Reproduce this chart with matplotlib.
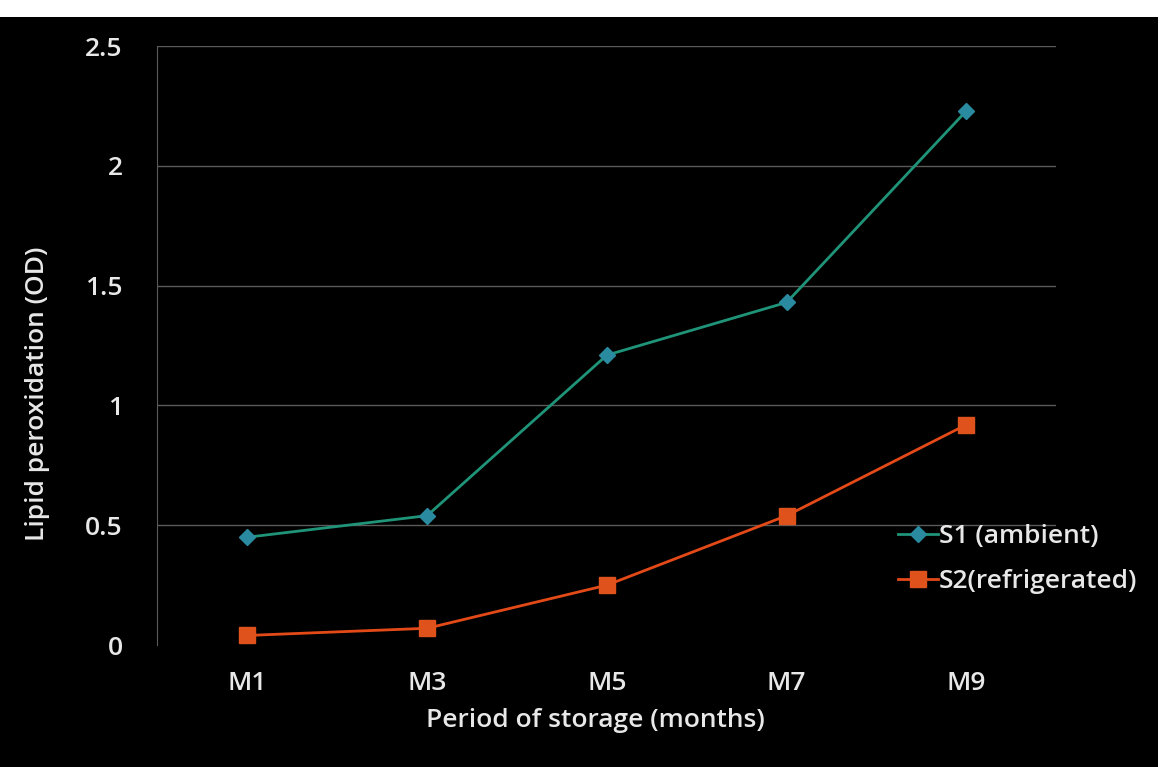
import matplotlib.pyplot as plt
from matplotlib.patches import Rectangle

months = ['M1', 'M3', 'M5', 'M7', 'M9']
s1_ambient = [0.45, 0.54, 1.21, 1.43, 2.23]
s2_refrigerated = [0.04, 0.07, 0.25, 0.54, 0.92]
y_ticks = [0, 0.5, 1, 1.5, 2, 2.5]
y_tick_labels = ['0', '0.5', '1', '1.5', '2', '2.5']

plt.rcParams['font.family'] = ['Open Sans', 'DejaVu Sans']
plt.rcParams['font.weight'] = 'semibold'
plt.rcParams['axes.labelweight'] = 'semibold'
txt = '#e8e8e8'
fs = 19

fig = plt.figure(figsize=(11.66, 7.67), dpi=100, facecolor='white')
# black slide background, leaving a thin white margin top and right
fig.patches.append(Rectangle((0, 0), 1158 / 1166, 1 - 17 / 767, transform=fig.transFigure,
                             facecolor='black', edgecolor='none', zorder=-10))

ax = fig.add_axes([0.135, 0.159, 0.771, 0.781])
ax.set_facecolor('black')
ax.patch.set_alpha(0)

x = list(range(len(months)))
ax.plot(x, s1_ambient, color='#1f9479', lw=2, marker='D', ms=8,
        mfc='#2a8aa0', mec='#2a8aa0', label='S1 (ambient)')
ax.plot(x, s2_refrigerated, color='#e44a18', lw=2, marker='s', ms=11,
        mfc='#e0521c', mec='#e0521c', label='S2(refrigerated)')

ax.set_xlim(-0.5, 4.5)
ax.set_ylim(0, 2.5)
ax.set_xticks(x)
ax.set_xticklabels(months)
ax.set_yticks(y_ticks)
ax.set_yticklabels(y_tick_labels)
ax.tick_params(axis='both', length=0, colors=txt, labelsize=fs)
ax.tick_params(axis='x', pad=19)
ax.tick_params(axis='y', pad=25)

for v in y_ticks[1:]:
    ax.axhline(v, color='#5a5a5a', lw=1, zorder=0)

for side in ['top', 'right', 'bottom']:
    ax.spines[side].set_visible(False)
ax.spines['left'].set_color('#5a5a5a')

ax.set_xlabel('Period of storage (months)', color=txt, fontsize=fs)
ax.set_ylabel('Lipid peroxidation (OD)', color=txt, fontsize=fs)
ax.xaxis.set_label_coords(0.487, -0.105)
ax.yaxis.set_label_coords(-0.12, 0.42)

leg = ax.legend(loc='center left', bbox_to_anchor=(0.75, 0.271),
                bbox_transform=fig.transFigure, frameon=False, fontsize=fs,
                handlelength=1.5, handletextpad=0.05, labelspacing=0.75)
for t in leg.get_texts():
    t.set_color(txt)

fig.savefig('out.png', dpi=100, facecolor=fig.get_facecolor())
